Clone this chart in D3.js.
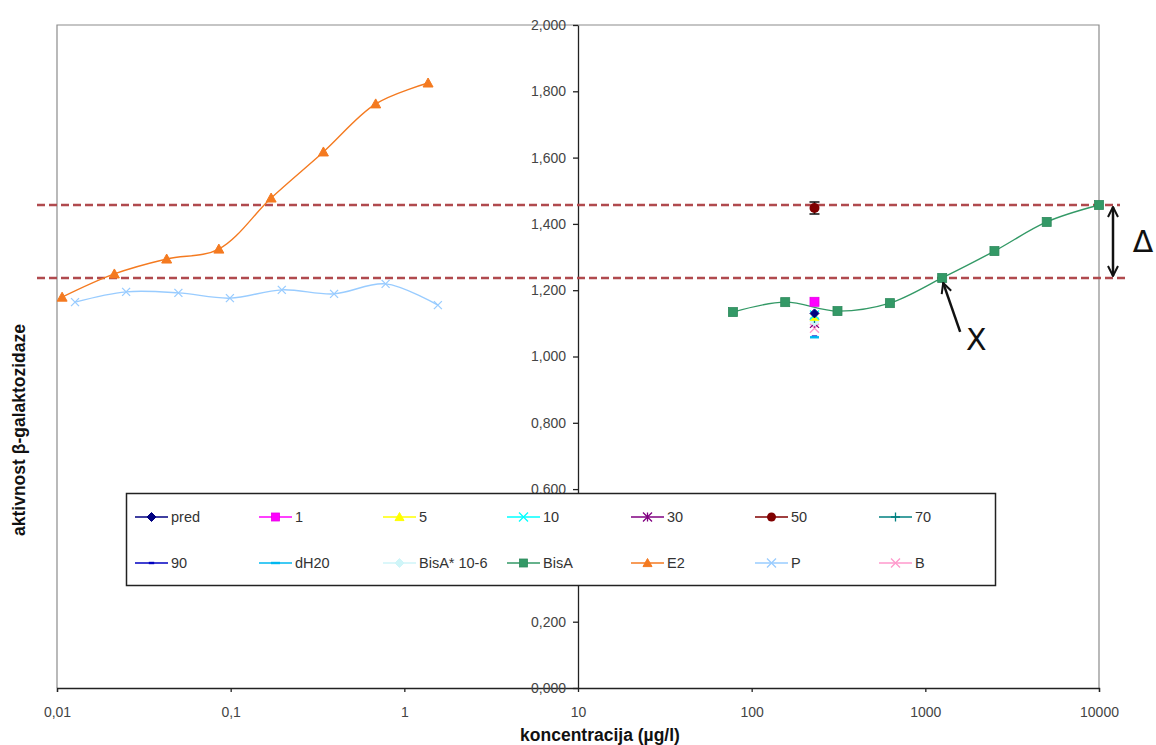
<!DOCTYPE html>
<html>
<head>
<meta charset="utf-8">
<script src="https://cdn.jsdelivr.net/npm/d3@7"></script>
<style>
  html, body { margin: 0; padding: 0; background: #fff; }
  svg { display: block; font-family: "Liberation Sans", Arial, sans-serif; }
</style>
</head>
<body>
<svg id="chart" width="1156" height="745"></svg>
<script>
// ---- data ----
const xTicks = [0.01, 0.1, 1, 10, 100, 1000, 10000];
const xTickLabels = ["0,01", "0,1", "1", "10", "100", "1000", "10000"];
const yTicks = [0, 0.2, 0.4, 0.6, 0.8, 1.0, 1.2, 1.4, 1.6, 1.8, 2.0];
const yTickLabels = ["0,000", "0,200", "0,400", "0,600", "0,800", "1,000", "1,200", "1,400", "1,600", "1,800", "2,000"];

// E2 dilution series
const e2Conc = [0.0107, 0.0214, 0.0428, 0.0855, 0.171, 0.342, 0.684, 1.37];
const e2Act  = [1.179, 1.249, 1.294, 1.324, 1.478, 1.617, 1.762, 1.825];
// P dilution series
const pConc = [0.0127, 0.025, 0.05, 0.099, 0.197, 0.394, 0.78, 1.56];
const pAct  = [1.164, 1.195, 1.192, 1.176, 1.201, 1.189, 1.219, 1.155];
// BisA dilution series
const bisConc = [78, 156, 312, 625, 1250, 2500, 5000, 10000];
const bisAct  = [1.134, 1.164, 1.137, 1.161, 1.237, 1.318, 1.406, 1.457];

// single samples, all measured at the same concentration
const sampleConc = 230;
const sampleNames = ["pred", "1", "5", "10", "30", "50", "70", "90", "dH20", "BisA* 10-6", "B"];
const sampleAct   = [1.130, 1.165, 1.120, 1.125, 1.100, 1.448, 1.115, 1.060, 1.058, 1.105, 1.085];
const sampleErr   = [0, 0, 0, 0, 0, 0.018, 0, 0, 0, 0, 0];

// reference levels (maximum BisA response and the level at point X)
const refHigh = 1.457;
const refLow  = 1.237;

// legend order
const legendNames = ["pred", "1", "5", "10", "30", "50", "70",
                     "90", "dH20", "BisA* 10-6", "BisA", "E2", "P", "B"];

// ---- styles ----
const styles = {
  "pred":       { color: "#000080", marker: "diamond" },
  "1":          { color: "#ff00ff", marker: "square" },
  "5":          { color: "#ffff00", marker: "triangle" },
  "10":         { color: "#00ffff", marker: "x" },
  "30":         { color: "#800080", marker: "asterisk" },
  "50":         { color: "#800000", marker: "circle" },
  "70":         { color: "#008080", marker: "plus" },
  "90":         { color: "#0000c0", marker: "dash" },
  "dH20":       { color: "#00b8f0", marker: "longdash" },
  "BisA* 10-6": { color: "#cff5f8", marker: "diamond" },
  "BisA":       { color: "#339966", marker: "square" },
  "E2":         { color: "#f47a20", marker: "triangle" },
  "P":          { color: "#99ccff", marker: "x" },
  "B":          { color: "#ff99cc", marker: "x" }
};

// ---- layout ----
const svg = d3.select("#chart");
const plot = { left: 57, right: 1099, top: 25, bottom: 688 };
const legendBox = { x: 126.5, y: 493.5, w: 869, h: 92 };

const x = d3.scaleLog().domain([0.01, 10000]).range([plot.left, plot.right]);
const y = d3.scaleLinear().domain([0, 2]).range([plot.bottom, plot.top]);

svg.append("rect").attr("width", 1156).attr("height", 745).attr("fill", "#fff");

// plot border (grey) on left / top / right
svg.append("path")
  .attr("d", `M${plot.left},${plot.bottom} V${plot.top} H${plot.right} V${plot.bottom}`)
  .attr("fill", "none").attr("stroke", "#8c8c8c").attr("stroke-width", 1.2);

// x axis
const xAxis = d3.axisBottom(x)
  .tickValues(xTicks)
  .tickFormat((d, i) => xTickLabels[i])
  .tickSize(4).tickPadding(15);
const gx = svg.append("g").attr("transform", `translate(0,${plot.bottom})`).call(xAxis);
gx.select(".domain").attr("stroke", "#222").attr("stroke-width", 1.3);
gx.selectAll(".tick line").attr("stroke", "#222").attr("stroke-width", 1.3);
gx.selectAll(".tick text").attr("font-size", 14).attr("fill", "#444")
  .attr("font-family", "Liberation Sans, Arial, sans-serif");

// y axis crosses at x = 10; the label under the legend box is left out
const yAxis = d3.axisLeft(y)
  .tickValues(yTicks)
  .tickFormat((d, i) => yTickLabels[i])
  .tickSize(5).tickPadding(7).tickSizeOuter(0);
const gy = svg.append("g").attr("transform", `translate(${x(10)},0)`).call(yAxis);
gy.select(".domain").attr("stroke", "#222").attr("stroke-width", 1.3);
gy.selectAll(".tick line").attr("stroke", "#222").attr("stroke-width", 1.3);
gy.selectAll(".tick text").attr("font-size", 14).attr("fill", "#444")
  .attr("font-family", "Liberation Sans, Arial, sans-serif");
gy.selectAll(".tick").filter(d => y(d) > legendBox.y + 8 && y(d) < legendBox.y + legendBox.h - 8)
  .select("text").remove();

// axis titles
svg.append("text")
  .attr("x", (plot.left + plot.right) / 2 + 22).attr("y", 741)
  .attr("text-anchor", "middle").attr("font-size", 17.5).attr("font-weight", "bold")
  .attr("fill", "#111")
  .text("koncentracija (µg/l)");
svg.append("text")
  .attr("transform", "translate(25,430) rotate(-90)")
  .attr("text-anchor", "middle").attr("font-size", 17.5).attr("font-weight", "bold")
  .attr("fill", "#111")
  .text("aktivnost β-galaktozidaze");

// reference levels (dashed)
[refHigh, refLow].forEach((v, i) => {
  svg.append("line")
    .attr("x1", plot.left - 20).attr("x2", plot.right + (i === 0 ? 21 : 28))
    .attr("y1", y(v)).attr("y2", y(v))
    .attr("stroke", "#b04a4e").attr("stroke-width", 2.4)
    .attr("stroke-dasharray", "8,4");
});

// ---- markers ----
function drawMarker(g, type, color, cx, cy, s) {
  const h = s / 2;
  switch (type) {
    case "diamond":
      g.append("path").attr("d", `M${cx},${cy - h} L${cx + h},${cy} L${cx},${cy + h} L${cx - h},${cy} Z`)
        .attr("fill", color).attr("stroke", color);
      break;
    case "square":
      g.append("rect").attr("x", cx - h).attr("y", cy - h).attr("width", s).attr("height", s)
        .attr("fill", color).attr("stroke", d3.color(color).darker(0.3)).attr("stroke-width", 0.8);
      break;
    case "triangle":
      g.append("path").attr("d", `M${cx},${cy - h} L${cx + h},${cy + h * 0.8} L${cx - h},${cy + h * 0.8} Z`)
        .attr("fill", color).attr("stroke", color);
      break;
    case "circle":
      g.append("circle").attr("cx", cx).attr("cy", cy).attr("r", h).attr("fill", color);
      break;
    case "x":
      g.append("path").attr("d", `M${cx - h},${cy - h} L${cx + h},${cy + h} M${cx - h},${cy + h} L${cx + h},${cy - h}`)
        .attr("stroke", color).attr("stroke-width", 1.3).attr("fill", "none");
      break;
    case "asterisk":
      g.append("path").attr("d", `M${cx - h},${cy - h} L${cx + h},${cy + h} M${cx - h},${cy + h} L${cx + h},${cy - h} M${cx},${cy - h} L${cx},${cy + h}`)
        .attr("stroke", color).attr("stroke-width", 1.3).attr("fill", "none");
      break;
    case "plus":
      g.append("path").attr("d", `M${cx - h},${cy} L${cx + h},${cy} M${cx},${cy - h} L${cx},${cy + h}`)
        .attr("stroke", color).attr("stroke-width", 1.3).attr("fill", "none");
      break;
    case "dash":
      g.append("rect").attr("x", cx - h * 0.6).attr("y", cy - 1.2).attr("width", s * 0.6).attr("height", 2.4).attr("fill", color);
      break;
    case "longdash":
      g.append("rect").attr("x", cx - h).attr("y", cy - 1.2).attr("width", s).attr("height", 2.4).attr("fill", color);
      break;
  }
}

// ---- series ----
const line = d3.line().curve(d3.curveCatmullRom.alpha(0.5));

function drawSeries(name, conc, act, size) {
  const st = styles[name];
  const pts = conc.map((c, i) => [x(c), y(act[i])]);
  const g = svg.append("g");
  g.append("path").attr("d", line(pts))
    .attr("fill", "none").attr("stroke", st.color).attr("stroke-width", 1.4);
  pts.forEach(p => drawMarker(g, st.marker, st.color, p[0], p[1], size));
}

drawSeries("P", pConc, pAct, 8);
drawSeries("E2", e2Conc, e2Act, 10);
drawSeries("BisA", bisConc, bisAct, 9);

// single samples with error bars
const gs = svg.append("g");
const sampleOrder = ["90", "dH20", "B", "30", "BisA* 10-6", "70", "5", "10", "pred", "1", "50"];
sampleOrder.forEach(n => {
  const i = sampleNames.indexOf(n);
  const st = styles[n];
  const cx = x(sampleConc), cy = y(sampleAct[i]);
  if (sampleErr[i] > 0) {
    const y0 = y(sampleAct[i] - sampleErr[i]), y1 = y(sampleAct[i] + sampleErr[i]);
    gs.append("path")
      .attr("d", `M${cx},${y0} V${y1} M${cx - 5},${y0} H${cx + 5} M${cx - 5},${y1} H${cx + 5}`)
      .attr("stroke", "#111").attr("stroke-width", 1.6).attr("fill", "none");
  }
  drawMarker(gs, st.marker, st.color, cx, cy, n === "50" ? 10 : 9);
});

// ---- annotations ----
svg.append("defs").html(`
  <marker id="head" viewBox="0 0 12 12" refX="11" refY="6" markerWidth="12" markerHeight="12"
          markerUnits="userSpaceOnUse" orient="auto-start-reverse">
    <path d="M1,1 L11,6 L1,11" fill="none" stroke="#111" stroke-width="2"/>
  </marker>`);

// arrow to point X
const px = x(bisConc[4]), py = y(bisAct[4]);
svg.append("line")
  .attr("x1", px + 18).attr("y1", py + 54)
  .attr("x2", px + 1).attr("y2", py + 5)
  .attr("stroke", "#111").attr("stroke-width", 2.5)
  .attr("marker-end", "url(#head)");
svg.append("text")
  .attr("x", px + 34).attr("y", py + 72)
  .attr("text-anchor", "middle").attr("font-size", 30)
  .attr("font-family", "DejaVu Sans, sans-serif").attr("fill", "#111")
  .text("X");

// Δ between the two reference levels
const dx = plot.right + 14;
svg.append("line")
  .attr("x1", dx).attr("x2", dx)
  .attr("y1", y(refHigh) + 2).attr("y2", y(refLow) - 2)
  .attr("stroke", "#111").attr("stroke-width", 2.5)
  .attr("marker-start", "url(#head)").attr("marker-end", "url(#head)");
svg.append("text")
  .attr("x", dx + 30).attr("y", (y(refHigh) + y(refLow)) / 2 + 11)
  .attr("text-anchor", "middle").attr("font-size", 30)
  .attr("font-family", "DejaVu Sans, sans-serif").attr("fill", "#111")
  .text("Δ");

// ---- legend ----
const lg = svg.append("g");
lg.append("rect")
  .attr("x", legendBox.x).attr("y", legendBox.y).attr("width", legendBox.w).attr("height", legendBox.h)
  .attr("fill", "#fff").attr("stroke", "#222").attr("stroke-width", 1.5);

legendNames.forEach((n, i) => {
  const col = i % 7, row = Math.floor(i / 7);
  const x0 = 135 + col * 124;
  const yy = 517 + row * 46;
  const st = styles[n];
  lg.append("line").attr("x1", x0).attr("x2", x0 + 33).attr("y1", yy).attr("y2", yy)
    .attr("stroke", st.color).attr("stroke-width", 1.5);
  drawMarker(lg, st.marker, st.color, x0 + 16.5, yy, n === "BisA" || n === "1" ? 8 : 9);
  lg.append("text").attr("x", x0 + 36).attr("y", yy + 5)
    .attr("font-size", 14.5).attr("fill", "#333").text(n);
});
</script>
</body>
</html>
